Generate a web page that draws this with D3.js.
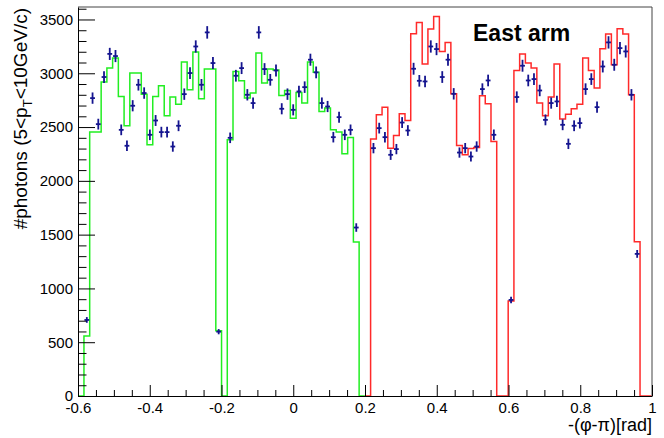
<!DOCTYPE html>
<html>
<head>
<meta charset="utf-8">
<script src="https://cdn.jsdelivr.net/npm/d3@7"></script>
<style>
  html, body { margin: 0; padding: 0; background: #fff; }
  svg { display: block; }
  text { font-family: "Liberation Sans", Arial, Helvetica, sans-serif; }
</style>
</head>
<body>
<svg id="chart" width="664" height="438"></svg>
<script>
// ---------------- data ----------------
// histogram axis definition (phi bins, rad)
const binLow0 = -0.5834;     // low edge of bin 0
const binWidth = 0.01598;

// green histogram, starting at bin index -1
const greenFirstBin = -1;
const greenHist = [0, 558, 2453, 2453, 2918, 3048, 3141, 2784, 2512, 3002, 3002,
  2806, 2335, 2784, 2884, 2605, 2779, 2713, 3104, 2846, 3197,
  2763, 3039, 3039, 607, 0, 2381, 3017, 2930, 2769, 2816,
  3188, 2909, 3040, 3030, 2793, 2840, 2583, 2822, 2723, 3104,
  3010, 2645, 2676, 2474, 2453, 2251, 2403, 1432, 0];

// red histogram, starting at bin index 49
const redFirstBin = 49;
const redHist = [0, 2388, 2614, 2685, 2304, 2421, 2623, 2561, 3367, 3473, 3086,
  3411, 3528, 3203, 3287, 2809, 2328, 2242, 2300, 2310, 2791,
  2716, 2366, 0, 0, 884, 3026, 3178, 3095, 3048, 2723,
  2605, 2779, 3086, 2574, 2620, 2670, 2713, 3141, 3026, 2862,
  3228, 3364, 3079, 3414, 3364, 2800, 1435, 0, 0];

// data points (bins 0..96), null = empty bin
const dataFirstBin = 0;
const dataVals = [707, 2769, 2527, 2965, 3180, 3160, 2474, 2326, 2698, 2893,
  2816, 2428, 2561, 2453, 2453, 2319, 2512, 2806, 3002, 3249,
  2893, 3380, 3095, 598, null, 2400, 2977, 3048, 2800, 2723,
  3380, 3039, 2939, 3026, 2670, 2806, 2660, 2831, 2871, 3126,
  3008, 2723, 2691, 2406, 2592, 2428, 2474, 1566, null, null,
  2304, 2490, 2406, 2242, 2295, 2542, 2468, 3042, 2930, 2924,
  3249, 3225, 2965, 3126, 2809, 2263, 2304, 2226, 2319, 2853,
  2933, 2428, null, null, 893, 2779, 3070, 2933, 2946, 2840,
  2567, 2723, 2738, 2521, 2344, 2512, 2537, 2853, 2946, 2685,
  3063, 3287, 3079, 3234, 3203, 2800, 1321];

const xTickLabels = ["-0.6", "-0.4", "-0.2", "0", "0.2", "0.4", "0.6", "0.8", "1"];
const yTickLabels = ["0", "500", "1000", "1500", "2000", "2500", "3000", "3500"];
const xDomain = [-0.6, 1.0];
const yDomain = [0, 3616];
const armLabel = "East arm";
const xTitle = "-(\u03c6-\u03c0)[rad]";

// ---------------- layout ----------------
const L = 78, R = 652, T = 7, B = 396;
const svg = d3.select("#chart");
const x = d3.scaleLinear().domain(xDomain).range([L, R]);
const y = d3.scaleLinear().domain(yDomain).range([B, T]);

svg.append("defs").append("clipPath").attr("id", "clip")
  .append("rect").attr("x", L).attr("y", T).attr("width", R - L).attr("height", B - T);

// histograms
function histPoints(first, vals) {
  const pts = vals.map((v, i) => [binLow0 + (first + i) * binWidth, v]);
  const last = pts[pts.length - 1];
  pts.push([last[0] + binWidth, last[1]]);
  return pts;
}
const stepLine = d3.line().x(d => x(d[0])).y(d => y(d[1])).curve(d3.curveStepAfter);
const plot = svg.append("g").attr("clip-path", "url(#clip)");
plot.append("path").attr("d", stepLine(histPoints(greenFirstBin, greenHist)))
  .attr("fill", "none").attr("stroke", "#22ee22").attr("stroke-width", 1.5);
plot.append("path").attr("d", stepLine(histPoints(redFirstBin, redHist)))
  .attr("fill", "none").attr("stroke", "#ff2a2a").attr("stroke-width", 1.5);

// data points with errors
const pts = dataVals.map((v, i) => ({ c: binLow0 + (dataFirstBin + i + 0.5) * binWidth, v }))
  .filter(d => d.v !== null);
const pg = plot.append("g").attr("stroke", "#14148f").attr("stroke-width", 1.8);
pg.selectAll("line.v").data(pts).join("line").attr("class", "v")
  .attr("x1", d => x(d.c)).attr("x2", d => x(d.c))
  .attr("y1", d => y(d.v - Math.sqrt(d.v))).attr("y2", d => y(d.v + Math.sqrt(d.v)));
pg.selectAll("line.h").data(pts).join("line").attr("class", "h")
  .attr("x1", d => x(d.c - 0.42 * binWidth)).attr("x2", d => x(d.c + 0.42 * binWidth))
  .attr("y1", d => y(d.v)).attr("y2", d => y(d.v));

// frame (top & right)
svg.append("line").attr("x1", L).attr("x2", R).attr("y1", T).attr("y2", T)
  .attr("stroke", "#444").attr("stroke-width", 1);
svg.append("line").attr("x1", R).attr("x2", R).attr("y1", T).attr("y2", B)
  .attr("stroke", "#444").attr("stroke-width", 1);

// x axis (ticks inward)
const xMajor = xTickLabels.map(Number);
const xMinor = d3.range(-0.6, 1.0001, 0.05).filter(v => !xMajor.some(m => Math.abs(m - v) < 1e-6));
const xAxis = d3.axisBottom(x).tickValues(xMajor).tickFormat((d, i) => xTickLabels[i])
  .tickSizeInner(-11).tickSizeOuter(0).tickPadding(6);
const gx = svg.append("g").attr("transform", `translate(0,${B})`).call(xAxis);
gx.select(".domain").attr("stroke", "#000");
gx.selectAll(".tick text").attr("font-size", 15).attr("fill", "#000");
const xAxisMinor = d3.axisBottom(x).tickValues(xMinor).tickFormat("").tickSizeInner(-6).tickSizeOuter(0);
const gxm = svg.append("g").attr("transform", `translate(0,${B})`).call(xAxisMinor);
gxm.select(".domain").remove();

// y axis (ticks inward)
const yMajor = yTickLabels.map(Number);
const yMinor = d3.range(0, 3601, 100).filter(v => v % 500 !== 0);
const yAxis = d3.axisLeft(y).tickValues(yMajor).tickFormat((d, i) => yTickLabels[i])
  .tickSizeInner(-17).tickSizeOuter(0).tickPadding(5);
const gy = svg.append("g").attr("transform", `translate(${L},0)`).call(yAxis);
gy.select(".domain").attr("stroke", "#000");
gy.selectAll(".tick text").attr("font-size", 15).attr("fill", "#000");
const yAxisMinor = d3.axisLeft(y).tickValues(yMinor).tickFormat("").tickSizeInner(-8.5).tickSizeOuter(0);
const gym = svg.append("g").attr("transform", `translate(${L},0)`).call(yAxisMinor);
gym.select(".domain").remove();

// titles
svg.append("text").attr("x", R).attr("y", 431).attr("text-anchor", "end")
  .attr("font-size", 18).attr("fill", "#000").text(xTitle);

const yt = svg.append("text").attr("transform", "translate(27,8) rotate(-90)")
  .attr("text-anchor", "end").attr("font-size", 19).attr("fill", "#000");
yt.append("tspan").text("#photons (5<p");
yt.append("tspan").attr("font-size", 13).attr("dy", 5).text("T");
yt.append("tspan").attr("dy", -5).text("<10GeV/c)");

svg.append("text").attr("x", 473).attr("y", 41).attr("font-size", 23)
  .attr("font-weight", "bold").attr("fill", "#000").text(armLabel);
</script>
</body>
</html>
